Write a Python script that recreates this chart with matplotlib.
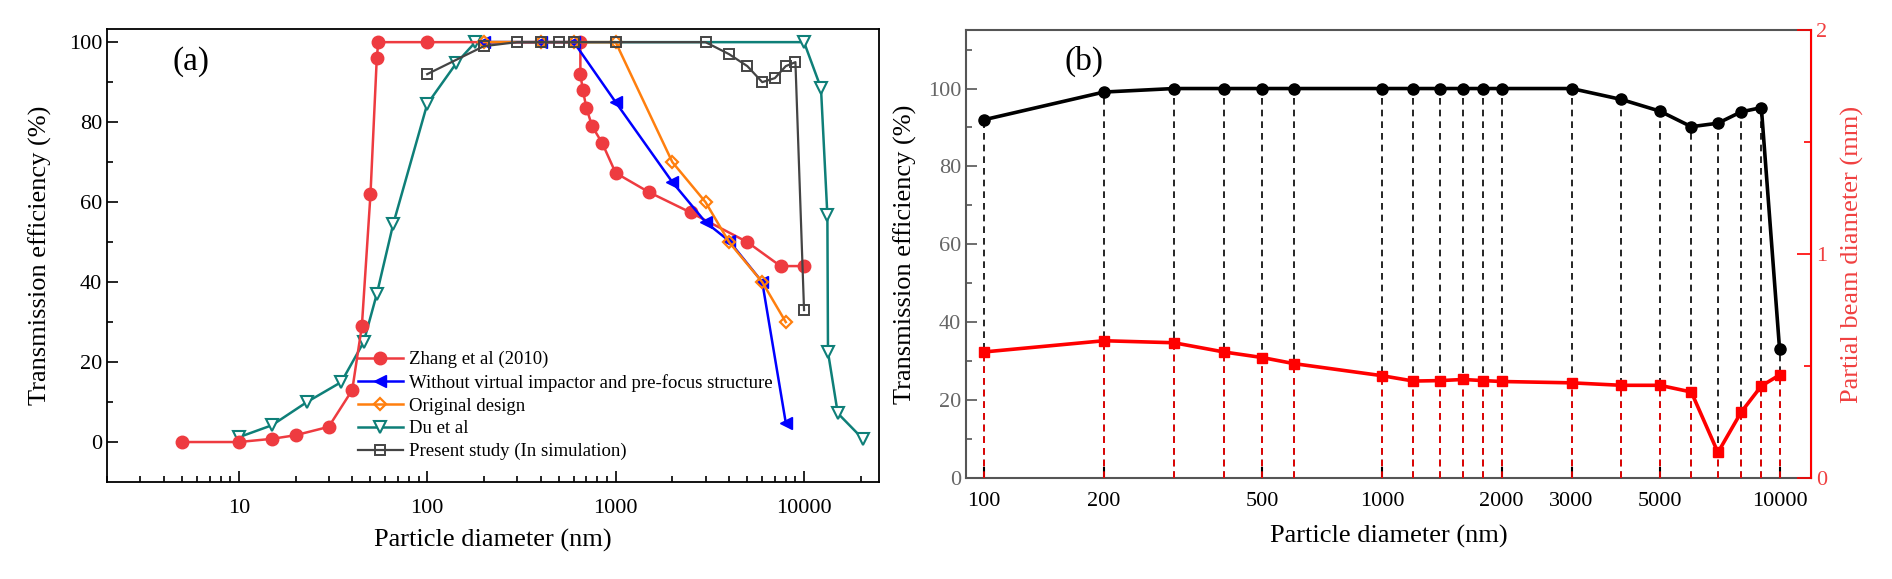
import numpy as np
import matplotlib
matplotlib.use('Agg')
import matplotlib.pyplot as plt
from matplotlib.ticker import FixedLocator, NullLocator, LogLocator, FixedFormatter

plt.rcParams['font.family'] = ['Liberation Serif', 'DejaVu Serif']

# ---- panel (a) data ----
zhang_x = [5, 10, 15, 20, 30, 40, 45, 50, 54, 55, 100, 650, 650, 670, 700, 750, 850, 1000, 1500, 2500, 5000, 7500, 10000]
zhang_y = [0, 0, 0.8, 1.7, 3.8, 13, 29, 62, 96, 100, 100, 100, 92, 88, 83.5, 79, 74.7, 67.3, 62.5, 57.4, 50, 44, 44]

without_x = [200, 400, 600, 1000, 2000, 3000, 4000, 6000, 8000]
without_y = [100, 100, 100, 85, 65, 55, 50.3, 40, 4.8]

orig_x = [200, 400, 600, 1000, 2000, 3000, 4000, 6000, 8000]
orig_y = [100, 100, 100, 100, 70, 60, 50, 40, 30]

du_x = [10, 15, 23, 35, 46, 54, 66, 100, 143, 180, 10000, 12300, 13300, 13400, 15100, 20500]
du_y = [1.2, 4.2, 10, 15, 25, 37, 54.5, 84.5, 94.8, 100, 100, 88.5, 56.7, 22.5, 7.2, 0.8]

present_a_x = [100, 200, 300, 400, 500, 600, 1000, 3000, 4000, 5000, 6000, 7000, 8000, 9000, 10000]
present_a_y = [92, 99, 100, 100, 100, 100, 100, 100, 97, 94, 90, 91, 94, 95, 33]

# ---- panel (b) data ----
diam_b = [100, 200, 300, 400, 500, 600, 1000, 1200, 1400, 1600, 1800, 2000,
          3000, 4000, 5000, 6000, 7000, 8000, 9000, 10000]
eff_b = [92, 99.1, 100, 100, 100, 100, 100, 100, 100, 100, 100, 100,
         100, 97.2, 94.2, 90.2, 91.1, 94, 95.1, 33.2]
beam_b = [0.563, 0.613, 0.604, 0.563, 0.538, 0.511, 0.457, 0.433, 0.435, 0.44, 0.435, 0.431,
          0.425, 0.414, 0.414, 0.384, 0.114, 0.293, 0.411, 0.46]

xticks_b = [100, 200, 500, 1000, 2000, 3000, 5000, 10000]

fig = plt.figure(figsize=(18.92, 5.79), dpi=100)

# ================= (a) =================
ax = fig.add_axes([0.0566, 0.1675, 0.408, 0.7825])
ax.plot(zhang_x, zhang_y, '-o', color='#EE3B40', lw=1.8, ms=9, label='Zhang et al (2010)', zorder=3)
ax.plot(without_x, without_y, '-<', color='#0000FF', lw=1.8, ms=8, label='Without virtual impactor and pre-focus structure', zorder=4)
ax.plot(orig_x, orig_y, '-D', color='#FF7F0E', lw=1.8, ms=6.5, mfc='none', mew=1.6, label='Original design', zorder=4)
ax.plot(du_x, du_y, '-v', color='#0E7F78', lw=1.8, ms=9, mfc='white', mew=1.5, label='Du et al', zorder=2)
ax.plot(present_a_x, present_a_y, '-s', color='#444444', lw=1.6, ms=6.5, mfc='none', mew=1.4, label='Present study (In simulation)', zorder=5)

ax.set_xscale('log')
ax.set_xlim(2, 25000)
ax.set_ylim(-10, 103.3)
ax.xaxis.set_major_locator(FixedLocator([10, 100, 1000, 10000]))
ax.xaxis.set_major_formatter(FixedFormatter(['10', '100', '1000', '10000']))
ax.xaxis.set_minor_locator(LogLocator(base=10, subs=np.arange(2, 10)))
ax.yaxis.set_major_locator(FixedLocator([0, 20, 40, 60, 80, 100]))
ax.yaxis.set_minor_locator(FixedLocator([10, 30, 50, 70, 90]))
ax.tick_params(which='both', direction='in', top=False, right=False, labelsize=16, width=1.2)
ax.tick_params(which='major', length=8)
ax.tick_params(which='minor', length=4)
ax.tick_params(axis='x', pad=12)
for s in ax.spines.values():
    s.set_linewidth(1.3)
ax.set_xlabel('Particle diameter (nm)', fontsize=19, labelpad=8)
ax.set_ylabel('Transmission efficiency (%)', fontsize=19, labelpad=12)
ax.text(0.085, 0.895, '(a)', transform=ax.transAxes, fontsize=24, va='bottom')
ax.legend(loc='lower left', bbox_to_anchor=(0.325, 0.048), frameon=False, fontsize=13.5,
          handlelength=2.4, handletextpad=0.3, borderpad=0, labelspacing=0.3, borderaxespad=0)

# ================= (b) =================
bx = fig.add_axes([0.5106, 0.1744, 0.4466, 0.7736])
bx2 = bx.twinx()

bx.vlines(diam_b, 0, eff_b, colors='black', linestyles=(0, (4, 3)), lw=1.2, zorder=1)
bx.plot(diam_b, eff_b, '-o', color='black', lw=2.6, ms=8, zorder=3)

bx2.vlines(diam_b, 0, beam_b, colors='red', linestyles=(0, (4, 3)), lw=1.2, zorder=1)
bx2.plot(diam_b, beam_b, '-s', color='red', lw=2.6, ms=7, zorder=3)

bx.set_xscale('log')
bx.set_xlim(90, 12000)
bx.set_ylim(0, 115)
bx2.set_ylim(0, 2)
bx.xaxis.set_major_locator(FixedLocator(xticks_b))
bx.xaxis.set_major_formatter(FixedFormatter([str(v) for v in xticks_b]))
bx.xaxis.set_minor_locator(NullLocator())
bx.yaxis.set_major_locator(FixedLocator([0, 20, 40, 60, 80, 100]))
bx.yaxis.set_minor_locator(FixedLocator([10, 30, 50, 70, 90, 110]))
bx2.yaxis.set_major_locator(FixedLocator([0, 1, 2]))
bx2.yaxis.set_minor_locator(FixedLocator([0.5, 1.5]))

bx.tick_params(axis='x', which='both', direction='in', top=False, labelsize=16, length=8, width=1.5, colors='black', pad=10)
bx.tick_params(axis='y', which='both', direction='in', right=False, labelsize=16, width=1.2,
               color='#555555', labelcolor='#666666')
bx.tick_params(axis='y', which='major', length=8)
bx.tick_params(axis='y', which='minor', length=4)
bx2.tick_params(axis='y', which='both', direction='in', labelsize=16, width=1.2, color='red', labelcolor='#F04040')
bx2.tick_params(axis='y', which='major', length=10)
bx2.tick_params(axis='y', which='minor', length=5)

for name in ['left', 'top', 'bottom']:
    bx.spines[name].set_color('#555555')
    bx.spines[name].set_linewidth(1.5)
bx2.spines['right'].set_color('red')
bx2.spines['right'].set_linewidth(1.5)
bx2.spines['left'].set_visible(False)
bx2.spines['top'].set_visible(False)
bx2.spines['bottom'].set_visible(False)

bx.set_xlabel('Particle diameter (nm)', fontsize=19, labelpad=10)
bx.set_ylabel('Transmission efficiency (%)', fontsize=19, labelpad=8)
bx2.set_ylabel('Partial beam diameter (mm)', fontsize=19, color='#F04040', labelpad=10)
bx.text(0.117, 0.895, '(b)', transform=bx.transAxes, fontsize=24, va='bottom')

fig.savefig('out.png', dpi=100)
